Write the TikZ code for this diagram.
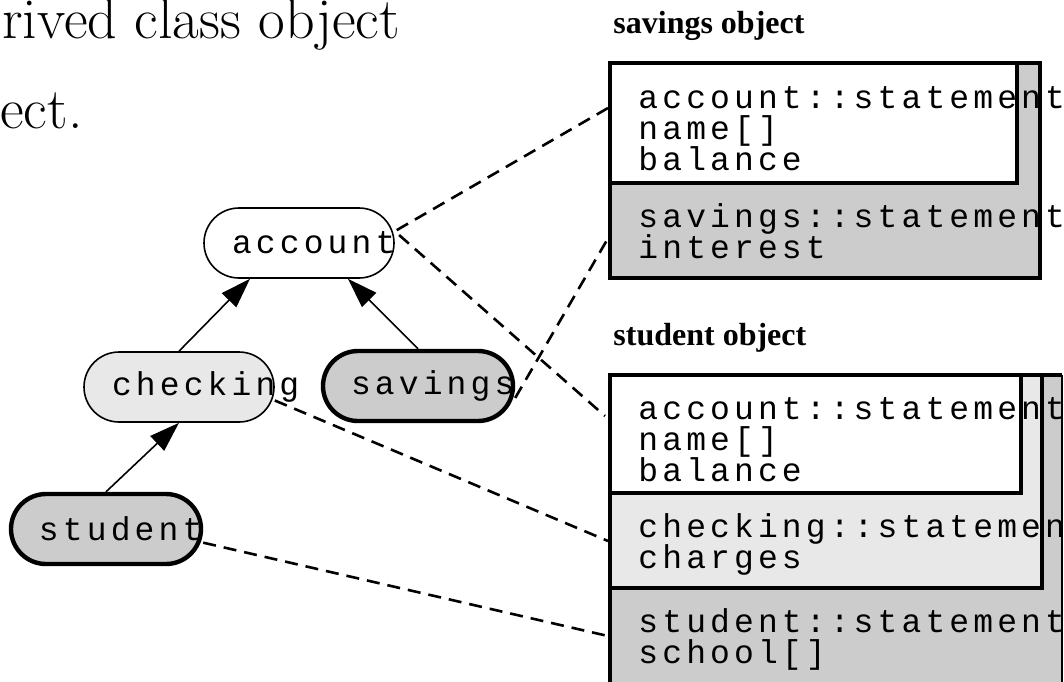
\documentclass[tikz,border=0pt]{standalone}
\usepackage{fontspec}
\newfontfamily\codefont[LetterSpace=12.5]{Liberation Mono}
\newfontfamily\labelfont{Liberation Serif}
\usetikzlibrary{arrows.meta,positioning}
\definecolor{objdark}{gray}{0.80}
\definecolor{objlight}{gray}{0.91}
\newcommand{\clsname}[1]{\makebox[67pt][l]{#1}}
\lineskiplimit=-20pt

\begin{document}
\begin{tikzpicture}[x=0.5pt,y=-0.5pt,>={Triangle[length=15pt,width=10pt]},font=\codefont\fontsize{16.5}{15.5}\selectfont]
\tikzset{cls/.style={draw,rounded corners=17.5pt,minimum height=35pt,inner xsep=14pt,inner ysep=0pt,line width=0.8pt},
base/.style={cls,fill=white},
mid/.style={cls,fill=objlight},
leaf/.style={cls,fill=objdark,line width=2.2pt},
sect/.style={anchor=base west,inner sep=0pt,align=left},
title/.style={anchor=base west,inner sep=0pt,font=\rmfamily\fontsize{29}{32}\selectfont},
objlabel/.style={anchor=base west,inner sep=0pt,font=\labelfont\bfseries\fontsize{16}{19}\selectfont},
inh/.style={->,line width=0.8pt},
link/.style={line width=1.3pt,dash pattern=on 6.5pt off 4pt},
heavy/.style={line width=2.4pt}}
\path[use as bounding box] (0,0) rectangle (1064,681);
% slide heading, cut at the left
\node[title] (heading) at (2,38) {rived class object};
\node[title] (headtail) at (0,128) {ect.};
% object layouts
\fill[objdark] (610,63) rectangle (1040,278);
\draw[heavy,fill=white] (610,63) rectangle (1017,183);
\draw[heavy] (610,63) rectangle (1040,278);
\fill[objdark] (610,375) rectangle (1062,700);
\draw[line width=1pt] (1062,375) -- (1062,700);
\draw[heavy,fill=objlight] (610,375) rectangle (1042,588);
\draw[heavy,fill=white] (610,375) rectangle (1021,493);
\draw[heavy] (1062,375) -- (610,375) -- (610,700);
\node[objlabel] (savlabel) at (613,33) {savings object};
\node[objlabel] (stulabel) at (613,345) {student object};
\node[sect] (savacct) at (638,170) {account::statement\\name[]\\balance};
\node[sect] (savown) at (638,258) {savings::statement\\interest};
\node[sect] (stuacct) at (638,481) {account::statement\\name[]\\balance};
\node[sect] (stuchk) at (638,568) {checking::statement\\charges};
\node[sect] (stuown) at (638,663) {student::statement\\school[]};
\coordinate (savA) at (608,108);
\coordinate (savS) at (607,240);
\coordinate (stuA) at (605,416);
\coordinate (stuC) at (608,541);
\coordinate (stuS) at (608,636);
% class hierarchy
\node[base] (account) at (299,243) {\clsname{account}};
\node[mid] (checking) at (179,387) {\clsname{checking}};
\node[leaf] (savings) at (418,386) {\clsname{savings}};
\node[leaf] (student) at (106,529) {\clsname{student}};
\draw[inh] (checking.north) -- ([xshift=-24.5pt]account.south);
\draw[inh] (savings.north) -- ([xshift=24.5pt]account.south);
\draw[inh] (student.north) -- (checking.south);
\draw[link] (savA) -- (account.7) -- (stuA);
\draw[link] (savings.-7) -- (savS);
\draw[link] (checking.-8) -- (stuC);
\draw[link] (student.-8) -- (stuS);
\end{tikzpicture}
\end{document}
